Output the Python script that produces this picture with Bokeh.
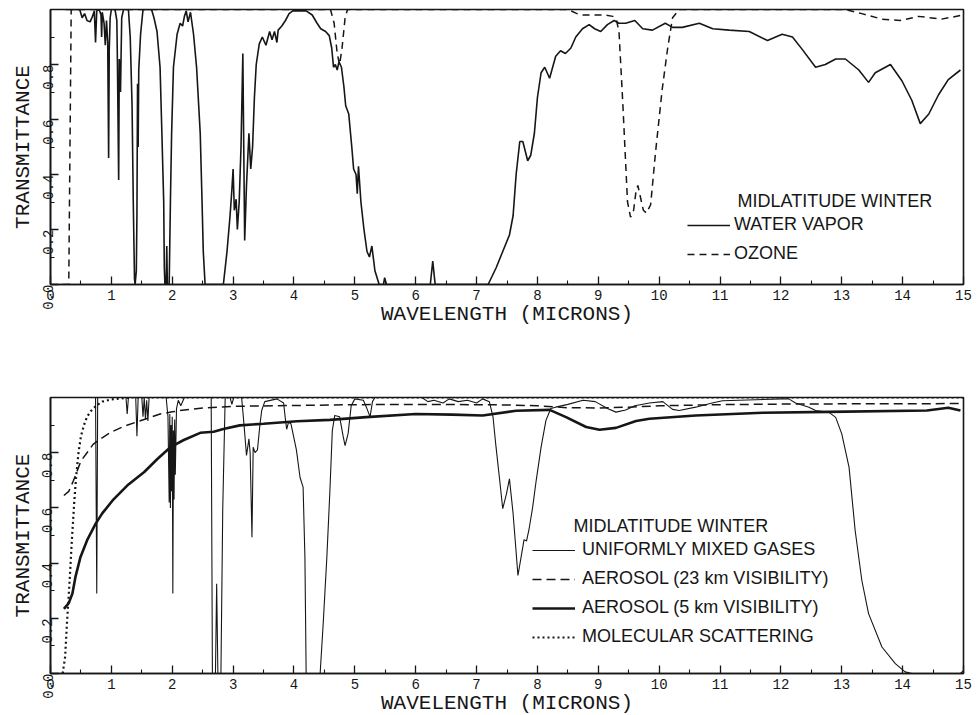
import math
from bokeh.plotting import figure
from bokeh.models import (Range1d, FixedTicker, Legend, LegendItem, Label,
                          PrintfTickFormatter)
from bokeh.layouts import column
from bokeh.embed import file_html
from bokeh.resources import INLINE

# ---------------- data ----------------
x_ticks = list(range(0, 16))
x_minor = [i + 0.5 for i in range(0, 15)]
y_ticks = [0.0, 0.2, 0.4, 0.6, 0.8]
y_minor = [0.1, 0.3, 0.5, 0.7, 0.9]

location = "MIDLATITUDE WINTER"
x_title = "WAVELENGTH (MICRONS)"
y_title = "TRANSMITTANCE"

# top panel: water vapour transmittance
water_vapor = [
    (0.25, 1.0), (0.48, 1.0), (0.52, 0.97), (0.56, 0.985), (0.6, 0.96), (0.65, 0.955),
    (0.69, 0.975), (0.72, 0.995), (0.74, 0.88), (0.76, 0.995), (0.8, 1.0), (0.83, 0.98),
    (0.84, 0.9), (0.85, 0.99), (0.88, 0.95), (0.9, 0.87), (0.92, 0.96), (0.94, 0.88),
    (0.955, 0.46), (0.965, 0.85), (0.98, 0.97), (1.0, 1.0), (1.06, 1.0), (1.09, 0.96),
    (1.1, 0.8), (1.12, 0.38), (1.13, 0.82), (1.15, 0.7), (1.17, 0.97), (1.2, 1.0),
    (1.28, 1.0), (1.31, 0.9), (1.34, 0.65), (1.36, 0.3), (1.38, 0.02), (1.39, 0.0),
    (1.41, 0.05), (1.42, 0.25), (1.43, 0.73), (1.44, 0.5), (1.45, 0.78), (1.48, 0.91),
    (1.52, 1.0), (1.66, 1.0), (1.7, 0.97), (1.75, 0.92), (1.8, 0.79), (1.83, 0.55),
    (1.86, 0.3), (1.87, 0.06), (1.88, 0.0), (1.9, 0.0), (1.91, 0.14), (1.92, 0.0),
    (1.95, 0.0), (1.97, 0.3), (1.99, 0.55), (2.02, 0.79), (2.08, 0.91), (2.13, 0.95),
    (2.17, 0.94), (2.2, 0.975), (2.23, 0.995), (2.26, 0.955), (2.3, 0.99), (2.35, 0.91),
    (2.4, 0.79), (2.43, 0.67), (2.46, 0.55), (2.49, 0.3), (2.51, 0.12), (2.54, 0.0),
    (2.84, 0.0), (2.9, 0.12), (2.95, 0.25), (2.98, 0.345), (3.0, 0.42), (3.02, 0.27),
    (3.05, 0.31), (3.07, 0.2), (3.1, 0.3), (3.13, 0.5), (3.16, 0.84), (3.19, 0.16),
    (3.22, 0.36), (3.26, 0.55), (3.29, 0.42), (3.32, 0.5), (3.35, 0.68), (3.38, 0.8),
    (3.43, 0.875), (3.48, 0.9), (3.54, 0.87), (3.6, 0.92), (3.64, 0.89), (3.68, 0.92),
    (3.72, 0.88), (3.74, 0.925), (3.8, 0.94), (3.86, 0.96), (3.92, 0.985), (3.98, 0.995),
    (4.2, 0.995), (4.3, 0.98), (4.38, 0.95), (4.44, 0.93), (4.52, 0.92), (4.58, 0.905),
    (4.62, 0.86), (4.65, 0.79), (4.68, 0.8), (4.71, 0.78), (4.74, 0.81), (4.78, 0.79),
    (4.82, 0.72), (4.85, 0.65), (4.9, 0.62), (4.95, 0.5), (4.98, 0.42), (5.02, 0.4),
    (5.04, 0.33), (5.06, 0.43), (5.1, 0.3), (5.15, 0.2), (5.2, 0.12), (5.24, 0.1),
    (5.28, 0.14), (5.33, 0.05), (5.4, 0.0), (5.47, 0.0), (5.49, 0.025), (5.52, 0.0),
    (6.24, 0.0), (6.28, 0.085), (6.32, 0.0), (7.19, 0.0), (7.32, 0.06), (7.43, 0.12),
    (7.54, 0.18), (7.6, 0.25), (7.65, 0.4), (7.71, 0.52), (7.76, 0.52), (7.84, 0.45),
    (7.89, 0.47), (7.95, 0.55), (8.0, 0.68), (8.06, 0.77), (8.12, 0.79), (8.2, 0.75),
    (8.3, 0.83), (8.38, 0.85), (8.46, 0.84), (8.55, 0.86), (8.63, 0.9), (8.74, 0.93),
    (8.85, 0.945), (8.94, 0.93), (9.04, 0.92), (9.15, 0.945), (9.26, 0.96), (9.34, 0.95),
    (9.45, 0.95), (9.6, 0.96), (9.73, 0.93), (9.89, 0.925), (10.1, 0.95), (10.22, 0.935),
    (10.38, 0.935), (10.66, 0.95), (10.88, 0.93), (11.15, 0.925), (11.48, 0.92),
    (11.78, 0.887), (12.02, 0.91), (12.19, 0.9), (12.35, 0.855), (12.57, 0.79),
    (12.73, 0.8), (12.9, 0.82), (13.06, 0.82), (13.28, 0.78), (13.44, 0.735),
    (13.55, 0.77), (13.8, 0.8), (13.99, 0.74), (14.15, 0.67), (14.29, 0.585),
    (14.43, 0.62), (14.59, 0.69), (14.75, 0.745), (14.95, 0.78),
]

# top panel: ozone transmittance
ozone = [
    (0.2, 0.0), (0.3, 0.0), (0.34, 1.0), (4.6, 1.0), (4.66, 0.95), (4.71, 0.84),
    (4.75, 0.8), (4.79, 0.86), (4.84, 0.97), (4.88, 1.0), (8.5, 1.0), (8.65, 0.985),
    (8.75, 0.98), (9.1, 0.98), (9.24, 0.975), (9.3, 0.96), (9.34, 0.92), (9.4, 0.67),
    (9.48, 0.3), (9.53, 0.245), (9.58, 0.27), (9.62, 0.34), (9.65, 0.36), (9.69, 0.32),
    (9.74, 0.27), (9.79, 0.26), (9.86, 0.29), (9.94, 0.48), (10.05, 0.71), (10.14, 0.86),
    (10.22, 0.97), (10.33, 1.0), (13.06, 1.0), (13.33, 0.985), (13.66, 0.965),
    (13.96, 0.96), (14.26, 0.975), (14.64, 0.965), (14.95, 0.978),
]

# bottom panel: uniformly mixed gases
mixed_gases = [
    (0.2, 1.0), (0.74, 1.0), (0.76, 0.29), (0.775, 1.0), (1.24, 1.0), (1.26, 0.94),
    (1.28, 1.0), (1.4, 1.0), (1.42, 0.86), (1.44, 1.0), (1.5, 1.0), (1.52, 0.93),
    (1.54, 1.0), (1.56, 0.92), (1.58, 0.99), (1.6, 0.915), (1.62, 1.0), (1.9, 1.0),
    (1.93, 0.93), (1.95, 0.62), (1.96, 0.94), (1.97, 0.6), (1.98, 0.9), (1.99, 0.66),
    (2.0, 0.93), (2.01, 0.29), (2.02, 0.88), (2.03, 0.63), (2.04, 0.92), (2.05, 0.72),
    (2.07, 0.96), (2.1, 0.99), (2.14, 0.97), (2.2, 1.0), (2.64, 1.0), (2.66, 0.0),
    (2.71, 0.0), (2.73, 0.325), (2.75, 0.0), (2.8, 0.0), (2.83, 0.6), (2.87, 1.0),
    (2.95, 1.0), (2.98, 0.975), (3.01, 1.0), (3.14, 1.0), (3.18, 0.9), (3.22, 0.79),
    (3.26, 0.85), (3.28, 0.8), (3.31, 0.494), (3.33, 0.82), (3.36, 0.8), (3.4, 0.81),
    (3.44, 0.9), (3.47, 0.953), (3.52, 0.985), (3.72, 0.995), (3.83, 0.98), (3.86, 0.92),
    (3.88, 0.885), (3.91, 0.91), (3.95, 0.905), (4.04, 0.81), (4.1, 0.71), (4.15, 0.675),
    (4.18, 0.42), (4.2, 0.0), (4.43, 0.0), (4.48, 0.18), (4.54, 0.42), (4.59, 0.66),
    (4.63, 0.88), (4.67, 0.935), (4.75, 0.93), (4.81, 0.857), (4.84, 0.826), (4.89, 0.87),
    (4.94, 0.97), (5.0, 0.995), (5.14, 0.99), (5.19, 0.965), (5.25, 0.93), (5.29, 0.985),
    (5.33, 1.0), (6.1, 1.0), (6.2, 0.985), (6.3, 0.99), (6.45, 0.98), (6.55, 0.995),
    (6.7, 0.985), (6.85, 0.99), (7.0, 0.98), (7.1, 0.995), (7.21, 0.985), (7.27, 0.93),
    (7.32, 0.82), (7.38, 0.7), (7.43, 0.597), (7.49, 0.65), (7.54, 0.705), (7.6, 0.58),
    (7.68, 0.355), (7.73, 0.42), (7.78, 0.485), (7.82, 0.48), (7.86, 0.52), (7.92, 0.6),
    (7.98, 0.7), (8.06, 0.82), (8.14, 0.917), (8.22, 0.96), (8.3, 0.965), (8.5, 0.975),
    (8.75, 0.99), (8.95, 0.985), (9.15, 0.96), (9.29, 0.947), (9.45, 0.955), (9.6, 0.97),
    (9.84, 0.98), (10.06, 0.985), (10.22, 0.957), (10.33, 0.953), (10.6, 0.965),
    (10.87, 0.98), (11.04, 0.988), (12.02, 0.995), (12.13, 0.995), (12.24, 0.98),
    (12.46, 0.965), (12.57, 0.953), (12.79, 0.946), (12.9, 0.928), (13.0, 0.868),
    (13.12, 0.747), (13.22, 0.518), (13.33, 0.337), (13.44, 0.217), (13.66, 0.096),
    (13.88, 0.036), (14.04, 0.006), (14.15, 0.0), (14.95, 0.0), (15.0, 0.01),
]

# bottom panel: aerosol, 23 km visibility
aerosol_23km = [
    (0.22, 0.645), (0.3, 0.66), (0.38, 0.7), (0.44, 0.735), (0.5, 0.77), (0.6, 0.8),
    (0.7, 0.83), (0.82, 0.85), (1.0, 0.875), (1.2, 0.895), (1.4, 0.91), (1.6, 0.925),
    (1.8, 0.94), (2.0, 0.948), (2.2, 0.955), (2.5, 0.962), (3.0, 0.968), (4.0, 0.971),
    (5.0, 0.974), (6.0, 0.975), (7.0, 0.974), (7.5, 0.973), (8.0, 0.97), (8.5, 0.963),
    (9.0, 0.962), (9.5, 0.965), (10.0, 0.97), (11.0, 0.974), (12.0, 0.976),
    (13.0, 0.977), (15.0, 0.978),
]

# bottom panel: aerosol, 5 km visibility
aerosol_5km = [
    (0.22, 0.234), (0.3, 0.255), (0.36, 0.29), (0.41, 0.35), (0.49, 0.42), (0.6, 0.482),
    (0.74, 0.542), (0.85, 0.58), (1.02, 0.627), (1.26, 0.681), (1.54, 0.73),
    (1.76, 0.778), (1.97, 0.82), (2.19, 0.846), (2.46, 0.872), (2.68, 0.876),
    (2.84, 0.886), (3.11, 0.899), (3.5, 0.905), (4.05, 0.914), (4.59, 0.919),
    (5.19, 0.929), (6.0, 0.94), (6.6, 0.938), (7.1, 0.935), (7.65, 0.952), (8.2, 0.955),
    (8.47, 0.929), (8.8, 0.893), (9.02, 0.883), (9.29, 0.89), (9.62, 0.915),
    (9.84, 0.923), (10.6, 0.935), (11.7, 0.945), (12.79, 0.948), (14.4, 0.953),
    (14.75, 0.963), (14.95, 0.953),
]

# bottom panel: molecular scattering
molecular = [
    (0.2, 0.0), (0.24, 0.06), (0.27, 0.18), (0.31, 0.32), (0.35, 0.48), (0.39, 0.62),
    (0.42, 0.71), (0.46, 0.8), (0.5, 0.86), (0.55, 0.9), (0.6, 0.93), (0.66, 0.95),
    (0.75, 0.97), (0.85, 0.985), (1.0, 0.993), (1.3, 1.0), (15.0, 1.0),
]

INK = "#161616"
TICK_FONT = "Liberation Mono"
LEG_FONT = "Liberation Sans"


def xs(series):
    return [pt[0] for pt in series]


def ys(series):
    return [pt[1] for pt in series]


def make_fig(frame_h, top_b, bottom_b):
    p = figure(output_backend="svg", toolbar_location=None,
               frame_width=913, frame_height=frame_h,
               min_border_left=50, min_border_right=16,
               min_border_top=top_b, min_border_bottom=bottom_b,
               x_range=Range1d(0, 15), y_range=Range1d(0, 1),
               background_fill_color="white", border_fill_color="white",
               x_axis_label=x_title, y_axis_label=y_title)
    p.grid.visible = False
    p.outline_line_color = INK
    p.outline_line_width = 1.6
    for ax in (p.xaxis[0], p.yaxis[0]):
        ax.axis_line_color = INK
        ax.axis_line_width = 1.6
        ax.major_tick_in = 8
        ax.major_tick_out = 0
        ax.minor_tick_in = 4
        ax.minor_tick_out = 0
        ax.major_tick_line_color = INK
        ax.major_tick_line_width = 1.3
        ax.minor_tick_line_color = INK
        ax.minor_tick_line_width = 1.1
        ax.major_label_text_font = TICK_FONT
        ax.major_label_text_font_size = "14px"
        ax.major_label_text_color = INK
        ax.axis_label_text_font = TICK_FONT
        ax.axis_label_text_font_size = "21px"
        ax.axis_label_text_font_style = "normal"
        ax.axis_label_text_color = INK
        ax.axis_label_standoff = 0
    p.xaxis[0].ticker = FixedTicker(ticks=x_ticks, minor_ticks=x_minor)
    p.xaxis[0].major_label_standoff = 5
    p.yaxis[0].ticker = FixedTicker(ticks=y_ticks, minor_ticks=y_minor)
    p.yaxis[0].formatter = PrintfTickFormatter(format="%.1f")
    p.yaxis[0].major_label_orientation = math.pi / 2
    p.yaxis[0].major_label_standoff = 3
    return p


# ---------------- top panel ----------------
p1 = make_fig(275, 9, 48)
r_wv = p1.line(xs(water_vapor), ys(water_vapor), line_color=INK, line_width=1.6)
r_oz = p1.line(xs(ozone), ys(ozone), line_color=INK, line_width=1.5, line_dash="7 5")
leg1 = Legend(items=[LegendItem(label="WATER VAPOR", renderers=[r_wv]),
                     LegendItem(label="OZONE", renderers=[r_oz])],
              location=(637, 20), glyph_width=43, glyph_height=20, label_height=20,
              label_standoff=4, spacing=8, padding=0, margin=0,
              border_line_color=None, background_fill_alpha=0,
              label_text_font=LEG_FONT, label_text_font_size="18px",
              label_text_color=INK)
p1.add_layout(leg1)
p1.add_layout(Label(x=687, y=84, x_units="screen", y_units="screen", text=location,
                    text_baseline="middle", text_font=LEG_FONT, text_font_size="18px",
                    text_color=INK))

# ---------------- bottom panel ----------------
p2 = make_fig(276, 65, 42)
r_mg = p2.line(xs(mixed_gases), ys(mixed_gases), line_color=INK, line_width=1.1)
r_a23 = p2.line(xs(aerosol_23km), ys(aerosol_23km), line_color=INK, line_width=1.5,
                line_dash="9 5")
r_a5 = p2.line(xs(aerosol_5km), ys(aerosol_5km), line_color=INK, line_width=2.6)
r_mol = p2.line(xs(molecular), ys(molecular), line_color=INK, line_width=2.2,
                line_dash="2 3")
leg2 = Legend(items=[LegendItem(label="UNIFORMLY MIXED GASES", renderers=[r_mg]),
                     LegendItem(label="AEROSOL (23 km VISIBILITY)", renderers=[r_a23]),
                     LegendItem(label="AEROSOL (5 km VISIBILITY)", renderers=[r_a5]),
                     LegendItem(label="MOLECULAR SCATTERING", renderers=[r_mol])],
              location=(482, 26), glyph_width=43, glyph_height=20, label_height=20,
              label_standoff=7, spacing=8, padding=0, margin=0,
              border_line_color=None, background_fill_alpha=0,
              label_text_font=LEG_FONT, label_text_font_size="18px",
              label_text_color=INK)
p2.add_layout(leg2)
p2.add_layout(Label(x=523, y=148, x_units="screen", y_units="screen", text=location,
                    text_baseline="middle", text_font=LEG_FONT, text_font_size="18px",
                    text_color=INK))

layout = column(p1, p2)
open("out.html", "w").write(file_html(layout, INLINE))
